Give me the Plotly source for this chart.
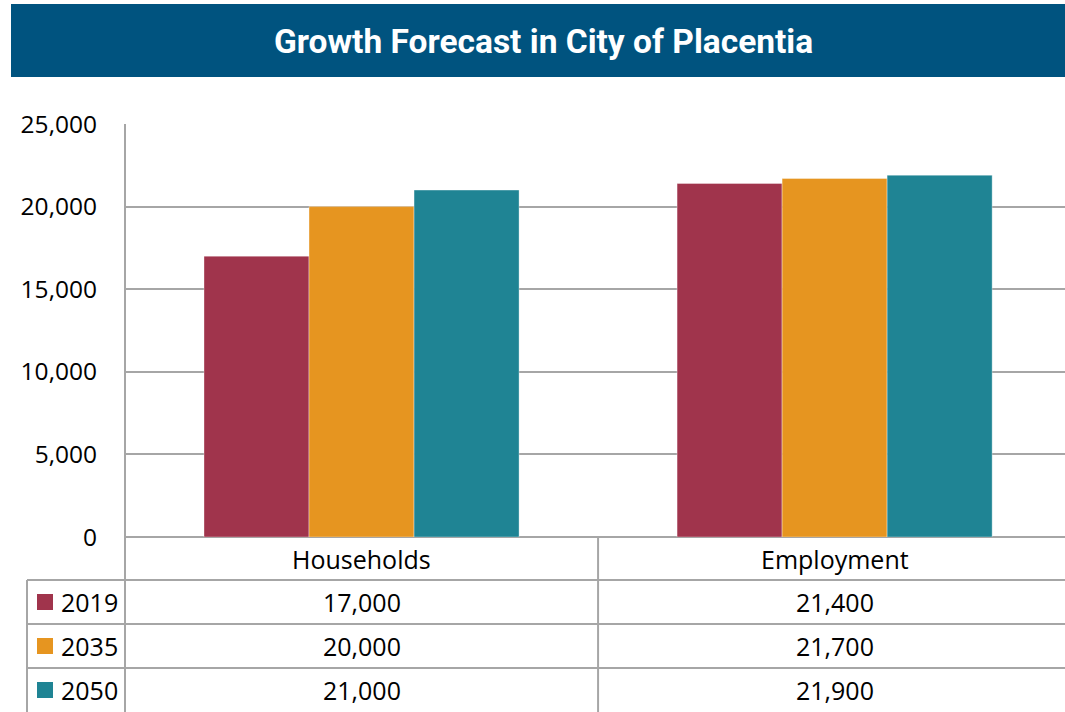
import plotly.graph_objects as go

categories = ["Households", "Employment"]
years = ["2019", "2035", "2050"]
values_2019 = [17000, 21400]
values_2035 = [20000, 21700]
values_2050 = [21000, 21900]
series_values = [values_2019, values_2035, values_2050]
colors = ["#A0344C", "#E69520", "#1F8494"]
y_ticks = [0, 5000, 10000, 15000, 20000, 25000]
y_tick_labels = ["0", "5,000", "10,000", "15,000", "20,000", "25,000"]
title = "Growth Forecast in City of Placentia"

W, H = 1065, 712
def px(x):
    return x / W
def py(y):
    return (H - y) / H

plot_left, plot_right, plot_top, plot_bottom = 125, 1065, 124, 537
row_edges = [537, 580, 624, 668, 712]
grid_color = "#A6A6A6"
font_family = "Open Sans, Noto Sans, sans-serif"
text_size = 25

fig = go.Figure()
for name, vals, col in zip(years, series_values, colors):
    fig.add_trace(go.Bar(x=categories, y=vals, name=name,
                         marker=dict(color=col, line=dict(width=1, color="rgba(255,255,255,0.35)"))))

shapes = []
annotations = []

# Title banner
shapes.append(dict(type="rect", xref="paper", yref="paper", x0=px(11), x1=px(1065), y0=py(77), y1=py(4),
                   fillcolor="#00537F", line=dict(width=0), layer="below"))
annotations.append(dict(text="<b>" + title + "</b>", xref="paper", yref="paper", x=px(543), y=py(42),
                        showarrow=False, font=dict(family="Roboto, sans-serif", size=33.5, color="white"),
                        xanchor="center", yanchor="middle"))

line = dict(color=grid_color, width=2)
shapes.append(dict(type="line", xref="paper", yref="paper", x0=px(plot_left), x1=px(plot_left),
                   y0=py(plot_top), y1=py(712), line=line))
shapes.append(dict(type="line", xref="x", yref="paper", x0=0.5, x1=0.5, y0=py(537), y1=py(712), line=line))
shapes.append(dict(type="line", xref="paper", yref="paper", x0=px(27), x1=px(27), y0=py(580), y1=py(712), line=line))
for yy in row_edges[1:4]:
    shapes.append(dict(type="line", xref="paper", yref="paper", x0=px(27), x1=px(1065), y0=py(yy), y1=py(yy), line=line))

for c in categories:
    annotations.append(dict(text=c, xref="x", yref="paper", x=c, y=py(558.5), showarrow=False,
                            font=dict(family=font_family, size=text_size, color="black"), xanchor="center", yanchor="middle"))

for i, (name, vals, col) in enumerate(zip(years, series_values, colors)):
    yc = (row_edges[i + 1] + row_edges[i + 2]) / 2
    shapes.append(dict(type="rect", xref="paper", yref="paper", x0=px(37), x1=px(53), y0=py(yc + 8), y1=py(yc - 8),
                       fillcolor=col, line=dict(width=0)))
    annotations.append(dict(text=name, xref="paper", yref="paper", x=px(59), y=py(yc), showarrow=False,
                            font=dict(family=font_family, size=text_size, color="black"), xanchor="left", yanchor="middle"))
    for c, v in zip(categories, vals):
        annotations.append(dict(text=f"{v:,}", xref="x", yref="paper", x=c, y=py(yc), showarrow=False,
                                font=dict(family=font_family, size=text_size, color="black"), xanchor="center", yanchor="middle"))

fig.update_layout(
    width=W, height=H, autosize=False,
    margin=dict(l=0, r=0, t=0, b=0, pad=0, autoexpand=False),
    paper_bgcolor="white", plot_bgcolor="white",
    showlegend=False,
    barmode="group", bargap=0.334, bargroupgap=0,
    shapes=shapes, annotations=annotations,
    xaxis=dict(domain=[px(plot_left), px(plot_right)], range=[-0.5, 1.487], showticklabels=False, showgrid=False,
               zeroline=False, showline=False, ticks="", automargin=False),
    yaxis=dict(domain=[py(plot_bottom), py(plot_top)], range=[0, 25000], tickvals=y_ticks, ticktext=y_tick_labels,
               showgrid=True, gridcolor=grid_color, gridwidth=2, zeroline=True, zerolinecolor=grid_color,
               zerolinewidth=2, showline=False, ticks="", ticklabelstandoff=27, automargin=False,
               tickfont=dict(family=font_family, size=24.5, color="black")),
)

post_js = ("document.documentElement.style.overflow='hidden';"
           "document.body.style.margin='0';"
           "document.body.style.overflow='hidden';")

fig.write_html("out.html", post_script=post_js, config={"displayModeBar": False})
